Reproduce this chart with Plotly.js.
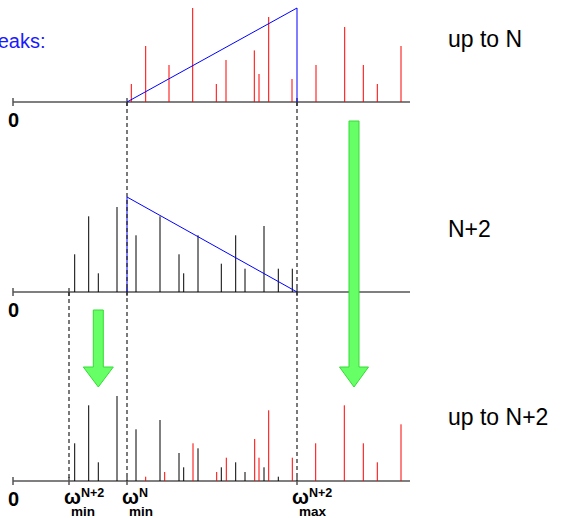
<!DOCTYPE html>
<html>
<head>
<meta charset="utf-8">
<script src="https://cdn.plot.ly/plotly-3.0.1.min.js"></script>
<style>html,body{margin:0;padding:0;background:#fff;}#chart{width:562px;height:518px;}</style>
</head>
<body>
<div id="chart"></div>
<script>
// ---- data (frequency positions and peak heights) ----
const topX = [118.3, 132.7, 156, 179.7, 203.3, 213, 241.3, 246, 255.7, 279, 303, 331.7, 350.3, 364.3, 388];
const topH = [18, 56, 37, 94, 18, 42, 51.6, 28, 85, 23, 37, 75, 37, 18, 56];

const midX = [61.7, 75.7, 85.3, 104, 123, 147, 166, 170.7, 185, 208.3, 222.7, 232, 251, 265.3, 279.3];
const midH = [37.7, 75.7, 18.7, 85, 56.7, 75.7, 37.7, 18.7, 56.7, 28.3, 56.7, 23.3, 66, 23.3, 23.3];

const botBlackX = [61.7, 75.7, 85.3, 104, 123, 147, 166, 170.7, 185, 208.3, 222.7, 232, 251, 265.3];
const botBlackH = [37.7, 75.7, 18.7, 85, 51.7, 61, 28, 13.7, 32.7, 13.7, 18.7, 9, 13.7, 4.3];
const botRedX = [132.7, 151.7, 180, 203.7, 213.3, 241.7, 246, 255.7, 279.3, 302.7, 331.3, 350.3, 364.3, 388];
const botRedH = [4.3, 9, 37.7, 9, 23.3, 42, 23.3, 70.7, 23.3, 37.7, 75.7, 37.7, 18.7, 56.7];

const wMinN2 = 56, wMinN = 114, wMaxN2 = 284, wEnd = 397;
const topTriH = 94, midTriH = 95;

const panelLabels = ["up to N", "N+2", "up to N+2"];
const markLabels = [
  {w: wMinN2, sup: "N+2", sub: "min"},
  {w: wMinN, sup: "N", sub: "min"},
  {w: wMaxN2, sup: "N+2", sub: "max"}
];

// ---- layout helpers ----
const W = 562, H = 518;
const xr = [-13, W - 13];
const base = [102, 292, 481];           // baseline pixel rows: top, middle, bottom
const py = p => 1 - p / H;
const dom = b => [(H - b - 10) / H, (H - b + 100) / H];

function stems(xs, hs, color, yaxis) {
  const x = [], y = [];
  xs.forEach((v, i) => { x.push(v, v, null); y.push(0, hs[i], null); });
  return {x, y, yaxis, type: 'scatter', mode: 'lines', line: {color, width: 1}, hoverinfo: 'skip'};
}
function axisLine(yaxis, ticks) {
  const x = [0, wEnd, null], y = [0, 0, null];
  ticks.forEach(t => { x.push(t, t, null); y.push(-4, 4, null); });
  return {x, y, yaxis, type: 'scatter', mode: 'lines', line: {color: '#555', width: 1.5}, hoverinfo: 'skip'};
}

const traces = [
  axisLine('y3', [0, wMinN, wMaxN2]),
  axisLine('y2', [0, wMinN2, wMinN, wMaxN2]),
  axisLine('y', [0, wMinN2, wMinN, wMaxN2]),
  stems(topX, topH, '#ff0000', 'y3'),
  stems(midX, midH, '#000000', 'y2'),
  stems(botBlackX, botBlackH, '#000000', 'y'),
  stems(botRedX, botRedH, '#ff0000', 'y'),
  {x: [wMinN, wMaxN2, wMaxN2], y: [0, topTriH, 0], yaxis: 'y3', type: 'scatter', mode: 'lines',
   line: {color: '#0000ff', width: 1}, hoverinfo: 'skip'},
  {x: [wMinN, wMinN, wMaxN2], y: [0, midTriH, 0], yaxis: 'y2', type: 'scatter', mode: 'lines',
   line: {color: '#0000ff', width: 1}, hoverinfo: 'skip'}
];

const dashed = (w, p0, p1) => ({type: 'line', xref: 'x', yref: 'paper', x0: w, x1: w, y0: py(p0), y1: py(p1),
  line: {color: '#222', width: 1.2, dash: '4px,3px'}});

function arrow(cx, top, headTop, tip, shaftHalf, headHalf) {
  const p = `M ${cx - shaftHalf},${py(top)} L ${cx + shaftHalf},${py(top)} L ${cx + shaftHalf},${py(headTop)} ` +
            `L ${cx + headHalf},${py(headTop)} L ${cx},${py(tip)} L ${cx - headHalf},${py(headTop)} ` +
            `L ${cx - shaftHalf},${py(headTop)} Z`;
  return {type: 'path', xref: 'x', yref: 'paper', path: p, fillcolor: '#66ff66', line: {color: '#33dd33', width: 1}};
}

const shapes = [
  dashed(wMinN, base[0], base[2]),
  dashed(wMaxN2, base[0], base[2]),
  dashed(wMinN2, base[1], base[2]),
  arrow(341, 121, 367, 387, 5, 14.5),
  arrow(85.3, 310, 367, 387, 5, 15)
];

const FAM = 'Liberation Sans, Arial, sans-serif';
const bold = (s) => ({family: FAM, size: s, color: '#000', weight: 'bold'});
const annotations = [];
base.forEach(b => {
  annotations.push({x: 0, y: py(b + 18), xref: 'x', yref: 'paper', text: '<b>0</b>', showarrow: false,
    xanchor: 'center', yanchor: 'middle', font: bold(20)});
});
const labelRows = [39, 229, 417];
panelLabels.forEach((t, i) => {
  annotations.push({x: 433, y: py(labelRows[i]), xref: 'x', yref: 'paper', text: t, showarrow: false,
    xanchor: 'left', yanchor: 'middle', font: {family: FAM, size: 23, color: '#000'}});
});
annotations.push({x: 35, y: py(41), xref: 'x', yref: 'paper', text: 'New peaks:', showarrow: false,
  xanchor: 'right', yanchor: 'middle', font: {family: FAM, size: 20, color: '#1a1aff'}});
const bb = base[2];
markLabels.forEach(m => {
  annotations.push({x: m.w + 3, y: py(bb + 16), xref: 'x', yref: 'paper', text: '<b>ω</b>', showarrow: false,
    xanchor: 'center', yanchor: 'middle', font: bold(20)});
  annotations.push({x: m.w + 9.5, y: py(bb + 12), xref: 'x', yref: 'paper', text: '<b>' + m.sup + '</b>', showarrow: false,
    xanchor: 'left', yanchor: 'middle', font: bold(12.5)});
  annotations.push({x: m.w, y: py(bb + 30), xref: 'x', yref: 'paper', text: '<b>' + m.sub + '</b>', showarrow: false,
    xanchor: 'left', yanchor: 'middle', font: bold(13.5)});
});

const hidden = (d) => ({domain: d, range: [-10, 100], visible: false, fixedrange: true, anchor: 'x'});
const layout = {
  width: W, height: H, autosize: false,
  margin: {l: 0, r: 0, t: 0, b: 0, pad: 0},
  paper_bgcolor: '#fff', plot_bgcolor: '#fff',
  showlegend: false,
  xaxis: {range: xr, visible: false, fixedrange: true},
  yaxis: hidden(dom(base[2])),
  yaxis2: hidden(dom(base[1])),
  yaxis3: hidden(dom(base[0])),
  shapes, annotations
};
Plotly.newPlot('chart', traces, layout, {displayModeBar: false, staticPlot: true});
</script>
</body>
</html>
